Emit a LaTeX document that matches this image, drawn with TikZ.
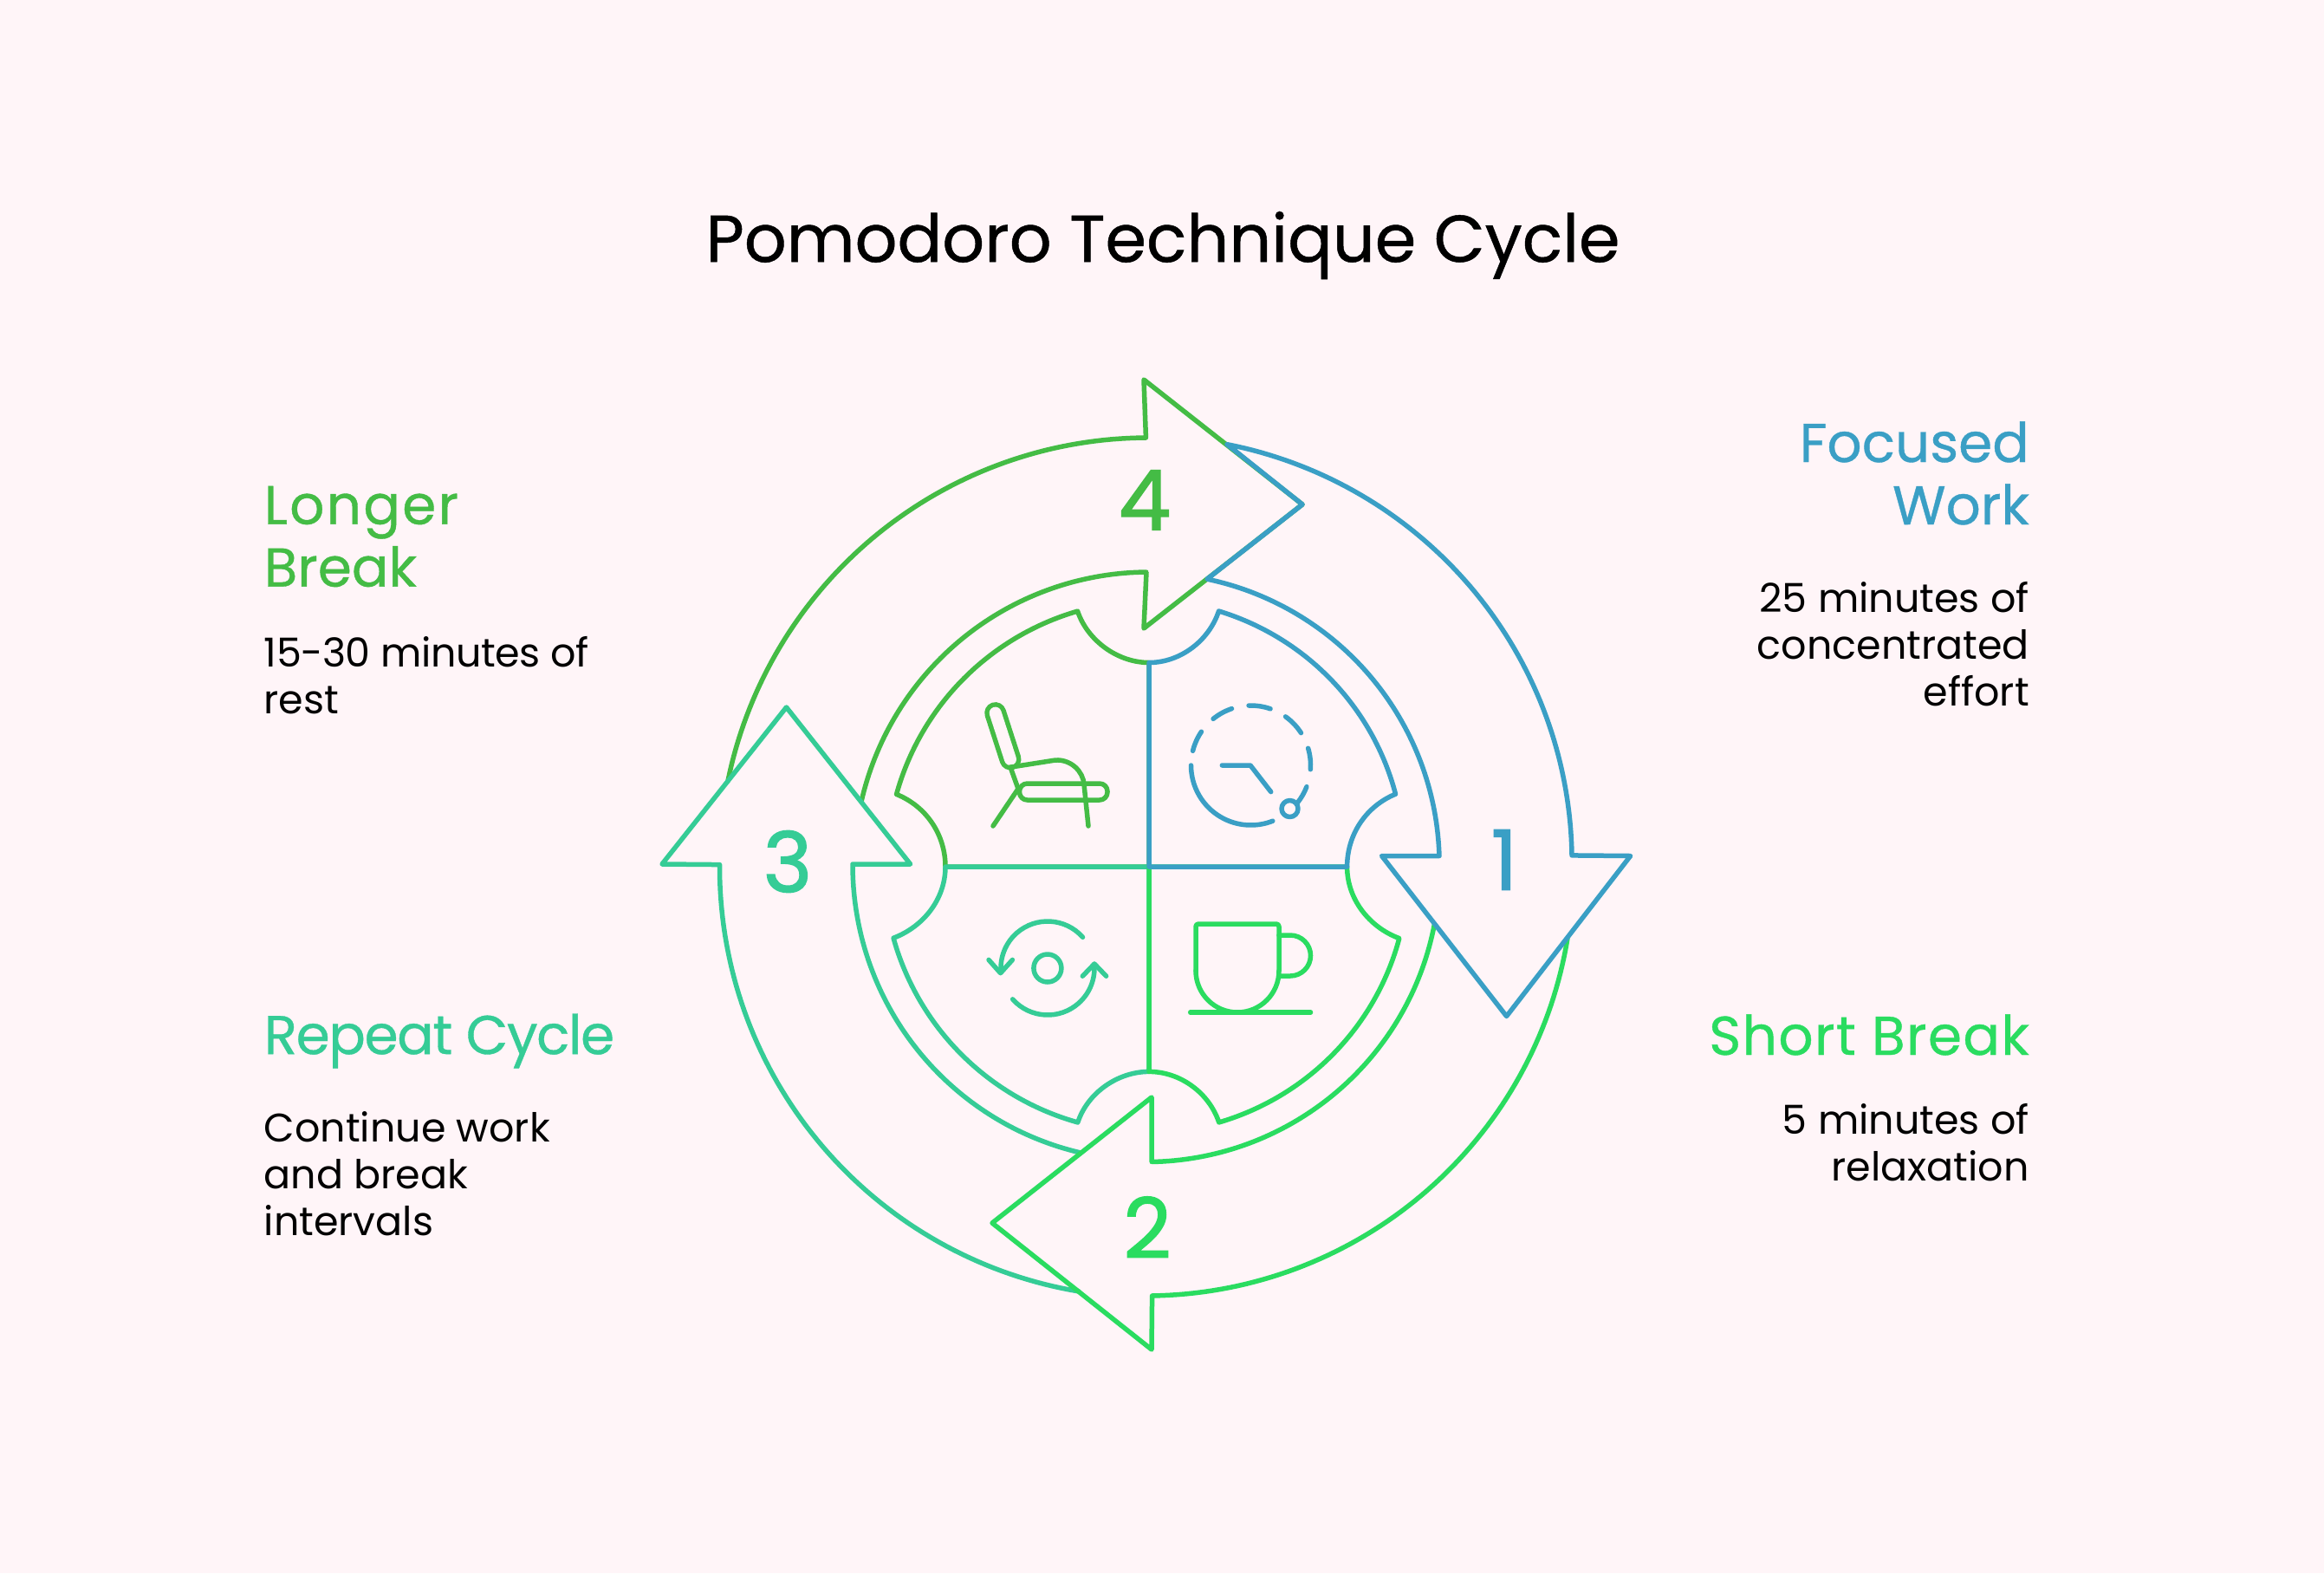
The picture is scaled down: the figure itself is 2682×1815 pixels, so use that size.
\documentclass[tikz,border=0pt]{standalone}
\usepackage{fontspec}
\setmainfont{Poppins}
\newfontfamily\numfont[FakeBold=1.6]{Poppins}
\newfontfamily\headfont[FakeBold=0.6]{Poppins}
\definecolor{bgc}{HTML}{FFF5F8}
\definecolor{cblue}{HTML}{3A9FC5}
\definecolor{cgreen}{HTML}{44BC45}
\definecolor{cteal}{HTML}{35CC96}
\definecolor{clime}{HTML}{2ADC60}
\newcommand{\spir}[4]{-- plot[domain=0:1,samples=70,variable=\t] ({1326+(#2+(#4-#2)*\t)*cos(#1+(#3-#1)*\t)},{1000+(#2+(#4-#2)*\t)*sin(#1+(#3-#1)*\t)})}
\newcommand{\spaced}[2]{{\addfontfeature{LetterSpace=#1}#2}}
\tikzset{
  ln/.style={line width=5.5pt,line join=round,line cap=round},
  titletext/.style={font=\headfont\fontsize{76.5}{90}\selectfont,text=black},
  headtext/.style={font=\headfont\fontsize{63}{72}\selectfont,inner sep=0pt},
  bodytext/.style={font=\fontsize{46}{54}\selectfont,text=black,inner sep=0pt},
  numtext/.style={font=\numfont\fontsize{96}{96}\selectfont,inner sep=0pt}
}
\begin{document}
\begin{tikzpicture}[x=1pt,y=1pt,yscale=-1]
\fill[bgc] (0,0) rectangle (2682,1815);
\useasboundingbox (0,0) rectangle (2682,1815);
\node[titletext] (title) at (1342,283) {Pomodoro Technique Cycle};

% large arrows
\draw[ln,cgreen] (840,901) \spir{-168.5}{496}{-90.35}{495} -- (1320,438) -- (1503,582) -- (1320,725) -- (1323,660) \spir{-90.5}{340}{-167.3}{340.4};
\draw[ln,cteal] (1245,1490) \spir{99.4}{496.6}{180.35}{495.5} -- (764,997) -- (907.5,816) -- (1050.6,997) -- (984,997) \spir{180.5}{342}{103.5}{339.3};
\draw[ln,clime] (1809,1082.5) \spir{9.7}{490}{89.65}{495} -- (1329,1557) -- (1145,1411) -- (1329,1266) -- (1329,1340.5) \spir{89.5}{340.5}{11.3}{336};
\draw[ln,cblue] (1416,512.6) \spir{-79.5}{495.6}{-1.47}{488.2} -- (1881.6,987.5) -- (1738.6,1172.5) -- (1594.6,987.5) -- (1661,987.5) \spir{-2.14}{335.2}{-78.65}{338.6} -- (1503,582) -- cycle;

% inner quadrants
\draw[ln,cgreen] (1326,1000) -- (1091,1000) .. controls (1091,963) and (1069,930.3) .. (1034.6,916.4) \spir{-163.99}{303.2}{-105.57}{306.2} .. controls (1255,739.2) and (1290,764.5) .. (1326,764.5) -- cycle;
\draw[ln,cteal] (1326,1000) -- (1326,1236.4) .. controls (1290,1236.4) and (1255,1260.8) .. (1243.8,1295) \spir{105.57}{306.2}{164.47}{306.2} .. controls (1066,1069) and (1091,1037) .. (1091,1000) -- cycle;
\draw[ln,clime] (1326,1000) -- (1554.6,1000) .. controls (1554.6,1037) and (1579.8,1069.6) .. (1614.8,1082.6) \spir{15.96}{300.4}{74.74}{305.8} .. controls (1395.3,1260.8) and (1362,1236.4) .. (1326,1236.4) -- cycle;
\draw[ln,cblue] (1326,1000) -- (1326,764.5) .. controls (1362,764.5) and (1395.3,739.2) .. (1406.5,705) \spir{-74.74}{305.8}{-16.37}{296.6} .. controls (1576.2,930.3) and (1554.6,963) .. (1554.6,1000) -- cycle;

% numbers
\node[numtext,text=cblue] (n1) at (1736,992) {1};
\node[numtext,text=clime] (n2) at (1324,1416) {2};
\node[numtext,text=cteal] (n3) at (909,994) {3};
\node[numtext,text=cgreen] (n4) at (1321,577) {4};

% chair icon
\begin{scope}[ln,cgreen]
\draw[double=bgc,double distance=14pt] (1148.7,822.6) -- (1166,876);
\draw[rounded corners=9pt] (1176.5,904) rectangle (1278,923);
\draw (1166,885) -- (1175,910) -- (1146,953);
\draw (1167,885) -- (1218,877) .. controls (1236,876) and (1250,890) .. (1251,905) -- (1256,953);
\end{scope}

% clock icon
\begin{scope}[ln,cblue]
\def\cx{1443.5}\def\cy{883}
\draw (\cx-69,\cy) arc[start angle=180,end angle=68.5,radius=69];
\foreach \a/\b in {-166/-145.8,-129/-108.6,-92/-70.9,-54.5/-32.8,-16.6/3.9,21/38.9}
  \draw ({\cx+69*cos(\a)},{\cy+69*sin(\a)}) arc[start angle=\a,end angle=\b,radius=69];
\draw (1488.5,933) circle[radius=9.5];
\draw (1410.3,883) -- (1443,883) -- (1466.7,913.6);
\end{scope}

% cup icon
\begin{scope}[ln,clime]
\draw[rounded corners=3pt] (1380,1120) -- (1380,1066) -- (1476,1066) -- (1476,1120);
\draw (1476,1120) arc[start angle=0,end angle=180,radius=48];
\draw (1476,1079) -- (1489,1079) arc[start angle=-90,end angle=90,radius=23.5] -- (1476,1126);
\draw (1373.7,1168) -- (1512.5,1168);
\end{scope}

% refresh icon
\begin{scope}[ln,cteal]
\draw (1208.9,1117) circle[radius=16];
\draw ({1209+54*cos(-41.4)},{1117+54*sin(-41.4)}) arc[start angle=-41.4,end angle=-185,radius=54];
\draw (1141,1107.4) -- (1154.6,1122.7) -- (1168.4,1107.4);
\draw ({1209+54*cos(138.4)},{1117+54*sin(138.4)}) arc[start angle=138.4,end angle=-5,radius=54];
\draw (1249.3,1126.2) -- (1263,1112) -- (1276.6,1126.2);
\end{scope}

% text
\node[headtext,text=cblue,anchor=east,align=right] (h1) at (2342,546) {Focused\\Work};
\node[bodytext,anchor=east,align=right] (b1) at (2342,743) {25 minutes of\\concentrated\\effort};
\node[headtext,text=clime,anchor=east,align=right] (h2) at (2342,1194) {\spaced{2.2}{Short Break}};
\node[bodytext,anchor=east,align=right] (b2) at (2342,1318) {5 minutes of\\relaxation};
\node[headtext,text=cgreen,anchor=west,align=left] (h4) at (304.5,619) {\spaced{3.6}{Longer}\\Break};
\node[bodytext,anchor=west,align=left] (b4) at (304.5,779) {\spaced{-1}{15-30 minutes of}\\rest};
\node[headtext,text=cteal,anchor=west,align=left] (h3) at (304.5,1201) {\spaced{-2.2}{Repeat Cycle}};
\node[bodytext,anchor=west,align=left] (b3) at (304.5,1354) {Continue work\\and break\\intervals};
\end{tikzpicture}
\end{document}
